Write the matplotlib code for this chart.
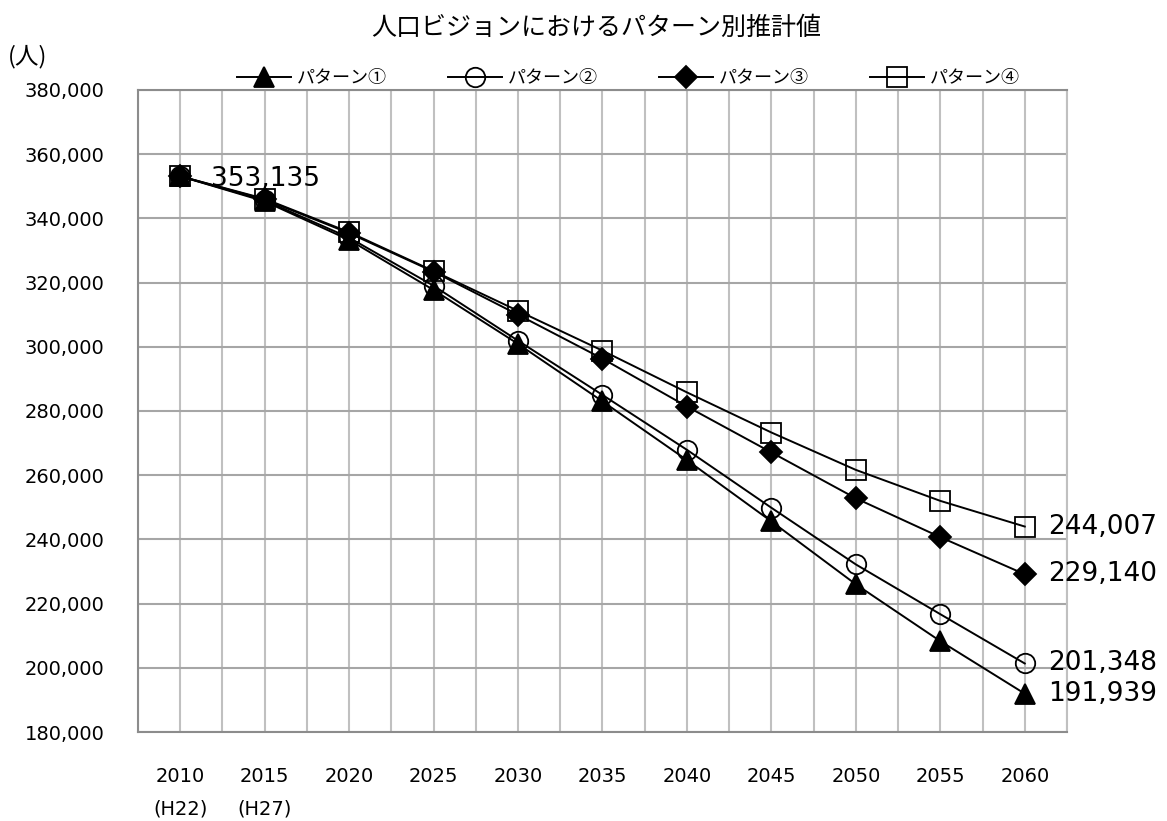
import matplotlib
matplotlib.use('Agg')
import matplotlib.pyplot as plt
from matplotlib.ticker import MultipleLocator

plt.rcParams['font.family'] = ['DejaVu Sans', 'Noto Sans CJK JP']

# data
years = ['2010\n(H22)', '2015\n(H27)', '2020', '2025', '2030', '2035',
         '2040', '2045', '2050', '2055', '2060']
pattern1 = [353135, 345300, 333300, 317700, 300900, 283000,
            264700, 245600, 226000, 208300, 191939]
pattern2 = [353135, 345600, 334000, 319000, 301900, 285000,
            267900, 249850, 232200, 216700, 201348]
pattern3 = [353135, 345900, 335400, 323400, 310000, 296300,
            281400, 267100, 252800, 240700, 229140]
pattern4 = [353135, 346100, 335700, 323600, 311200, 298800,
            285800, 273300, 261650, 252000, 244007]
labels = ['パターン①', 'パターン②', 'パターン③', 'パターン④']

jp = ['Noto Sans CJK JP', 'DejaVu Sans']

fig = plt.figure(figsize=(11.67, 8.21), dpi=100)
ax = fig.add_axes([138/1167, 1-732/821, 929/1167, 642/821])

x = list(range(len(years)))
styles = [
    (pattern1, dict(marker='^', ms=14, mfc='black', mec='black')),
    (pattern2, dict(marker='o', ms=14, mfc='none', mec='black')),
    (pattern3, dict(marker='D', ms=11.5, mfc='black', mec='black')),
    (pattern4, dict(marker='s', ms=14, mfc='none', mec='black')),
]
for (vals, st), lab in zip(styles, labels):
    ax.plot(x, vals, color='black', lw=1.4, mew=1.3, label=lab, zorder=3, **st)

ax.set_xlim(-0.5, 10.5)
ax.set_ylim(180000, 380000)
ax.set_xticks(x)
ax.set_xticklabels(years, linespacing=1.95, fontsize=14)
ax.xaxis.set_minor_locator(MultipleLocator(0.5))
ax.yaxis.set_major_locator(MultipleLocator(20000))
ax.yaxis.set_major_formatter(matplotlib.ticker.FuncFormatter(lambda v, p: f'{int(v):,}'))
ax.tick_params(axis='y', length=0, pad=24, labelsize=14)
ax.tick_params(axis='x', which='both', length=0, pad=25)

ax.grid(True, which='both', axis='x', color='#c0c0c0', lw=1.5, zorder=0)
ax.grid(True, which='major', axis='y', color='#a6a6a6', lw=1.5, zorder=0)
ax.set_axisbelow(True)
for side in ['left', 'bottom', 'top']:
    ax.spines[side].set_color('#8c8c8c')
    ax.spines[side].set_linewidth(1.5)
ax.spines['right'].set_color('#c0c0c0')
ax.spines['right'].set_linewidth(1.5)

# value labels
ax.annotate(f'{pattern1[0]:,}', (0, pattern1[0]), xytext=(22, -2),
            textcoords='offset points', va='center', ha='left', fontsize=19, zorder=5)
for vals in [pattern1, pattern2, pattern3, pattern4]:
    ax.annotate(f'{vals[-1]:,}', (10, vals[-1]), xytext=(17, 0),
                textcoords='offset points', va='center', ha='left', fontsize=19)

ax.legend(loc='center', bbox_to_anchor=(0.528, 1.018), ncol=4,
          frameon=False, handlelength=3.0, handletextpad=0.3,
          columnspacing=3.4, borderaxespad=0,
          prop={'family': jp, 'size': 13})

fig.text(596/1167, 1-28/821, '人口ビジョンにおけるパターン別推計値',
         ha='center', va='center', fontsize=18, family=jp)
fig.text(8/1167, 1-57/821, '(人)', ha='left', va='center', fontsize=17, family=jp)

fig.savefig('out.png', dpi=100)
